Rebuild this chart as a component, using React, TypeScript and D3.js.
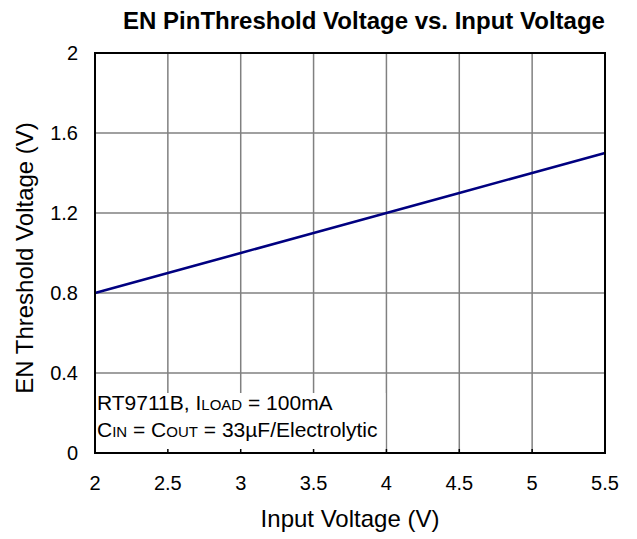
import React from "react";
import * as d3 from "d3";

const xTicks = [2, 2.5, 3, 3.5, 4, 4.5, 5, 5.5];
const yTicks = [0, 0.4, 0.8, 1.2, 1.6, 2];
const inputVoltage = [2, 2.5, 2.75, 3, 3.5, 4, 4.5, 5, 5.5];
const thresholdVoltage = [0.8, 0.9, 0.95, 1.0, 1.1, 1.2, 1.3, 1.4, 1.5];

export default function App() {
  const W = 637, H = 539;
  const L = 95, R = 605, T = 53, B = 453;
  const x = d3.scaleLinear().domain([2, 5.5]).range([L, R]);
  const y = d3.scaleLinear().domain([0, 2]).range([B, T]);
  const line = d3.line<number>().x((d, i) => x(inputVoltage[i])).y(d => y(d));
  const font = "Arial, 'Liberation Sans', sans-serif";
  return (
    <svg width={W} height={H} style={{ position: "absolute", left: 0, top: 0 }} fontFamily={font}>
      <rect x={0} y={0} width={W} height={H} fill="#fff" />
      {xTicks.slice(1, -1).map(t => (
        <line key={"gx" + t} x1={x(t)} x2={x(t)} y1={T} y2={B} stroke="#808080" strokeWidth={1.5} />
      ))}
      {yTicks.slice(1, -1).map(t => (
        <line key={"gy" + t} x1={L} x2={R} y1={y(t)} y2={y(t)} stroke="#808080" strokeWidth={1.5} />
      ))}
      <rect x={L + 1} y={393} width={x(4) - L - 2} height={B - 393 - 1} fill="#fff" />
      {xTicks.slice(1, -1).map(t => (
        <line key={"tx" + t} x1={x(t)} x2={x(t)} y1={B - 4} y2={B} stroke="#000" strokeWidth={1.5} />
      ))}
      <path d={line(thresholdVoltage) || ""} fill="none" stroke="#000080" strokeWidth={2.5} />
      <rect x={L} y={T} width={R - L} height={B - T} fill="none" stroke="#000" strokeWidth={2} />
      {xTicks.map(t => (
        <text key={"lx" + t} x={x(t)} y={490} fontSize={20} textAnchor="middle">{t}</text>
      ))}
      {yTicks.map(t => (
        <text key={"ly" + t} x={78} y={y(t) + 7} fontSize={20} textAnchor="end">{t}</text>
      ))}
      <text x={364} y={29} fontSize={24} fontWeight="bold" textAnchor="middle">EN PinThreshold Voltage vs. Input Voltage</text>
      <text x={350} y={527} fontSize={24} textAnchor="middle">Input Voltage (V)</text>
      <text transform={`translate(33,258) rotate(-90)`} fontSize={24} textAnchor="middle">EN Threshold Voltage (V)</text>
      <text x={97} y={410} fontSize={21}>
        RT9711B, I<tspan fontSize={15}>LOAD</tspan> = 100mA
      </text>
      <text x={97} y={437} fontSize={21}>
        C<tspan fontSize={15}>IN</tspan> = C<tspan fontSize={15}>OUT</tspan> = 33µF/Electrolytic
      </text>
    </svg>
  );
}
